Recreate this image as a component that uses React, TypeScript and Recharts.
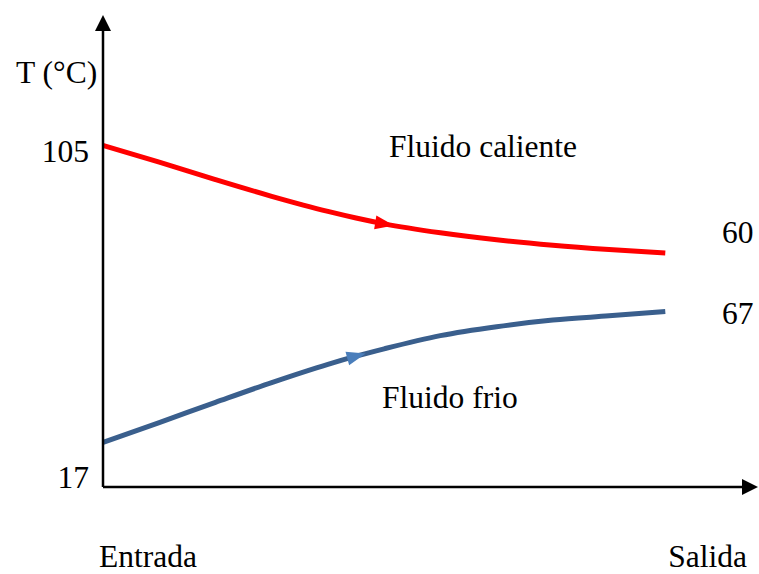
import React from 'react';
import { LineChart, Line, XAxis, YAxis } from 'recharts';

// position along the exchanger (0 = entrada, 100 = salida)
const positions = [0, 10, 20, 30, 40, 45, 50, 60, 70, 80, 90, 100];
const hotFluid = [105, 100.7, 96.2, 91.9, 88.0, 86.3, 84.8, 82.5, 80.7, 79.3, 78.2, 77.3];
const coldFluid = [28.5, 33.6, 38.8, 43.9, 48.6, 50.7, 52.6, 56.0, 58.3, 60.0, 61.1, 62.2];
const yTicks = [105, 17];

const data = positions.map((p, i) => ({ pos: p, hot: hotFluid[i], cold: coldFluid[i] }));

const FONT = "'Liberation Serif', 'Times New Roman', Times, serif";
const RED = '#ff0000';
const BLUE = '#3a5f8d';
const txt = { fontFamily: FONT, fontSize: 31.5, fill: '#000' };

const arrowDot = (at: number, color: string, angle: number) => (props: any) => {
  const { cx, cy, payload, index } = props;
  if (payload.pos !== at || cx == null) return <g key={`d-${index}`} />;
  return (
    <polygon
      key={`d-${index}`}
      points="-9,-7 10,0 -9,7"
      fill={color}
      transform={`translate(${cx},${cy}) rotate(${angle})`}
    />
  );
};

const YTick = (props: any) => {
  const { x, y, payload } = props;
  const dy = payload.value === 105 ? 17 : 1;
  return (
    <text x={x - 6} y={y + dy} textAnchor="end" style={txt}>
      {payload.value}
    </text>
  );
};

const App = () => {
  return (
    <div style={{ position: 'absolute', left: 0, top: 0, background: '#fff' }}>
      <LineChart width={759} height={574} data={data} margin={{ top: 29, right: 15, left: 0, bottom: 86 }}
        style={{ overflow: 'visible' }}>
        <defs>
          <marker id="axisArrow" viewBox="0 0 16 16" refX={2} refY={8} markerWidth={16} markerHeight={16}
            markerUnits="userSpaceOnUse" orient="auto-start-reverse">
            <path d="M0,0 L16,8 L0,16 z" fill="#000" />
          </marker>
        </defs>
        <XAxis
          dataKey="pos"
          type="number"
          domain={[0, 114]}
          height={1}
          tick={false}
          tickLine={false}
          axisLine={{ stroke: '#000', strokeWidth: 2.5, markerEnd: 'url(#axisArrow)' }}
        />
        <YAxis
          type="number"
          domain={[17, 135]}
          ticks={yTicks}
          width={103}
          tickLine={false}
          tick={<YTick />}
          axisLine={{ stroke: '#000', strokeWidth: 2.5, markerStart: 'url(#axisArrow)' }}
        />
        <Line type="monotone" dataKey="hot" stroke={RED} strokeWidth={5} isAnimationActive={false}
          dot={arrowDot(50, RED, 9)} activeDot={false} />
        <Line type="monotone" dataKey="cold" stroke={BLUE} strokeWidth={5} isAnimationActive={false}
          dot={arrowDot(45, '#4a7ebb', -15)} activeDot={false} />
        <g>
          <text x={16} y={83} style={txt}>T (°C)</text>
          <text x={389} y={157} style={txt}>Fluido caliente</text>
          <text x={382} y={408} style={txt}>Fluido frio</text>
          <text x={722} y={243} style={txt}>60</text>
          <text x={722} y={324} style={txt}>67</text>
          <text x={99} y={567} style={txt}>Entrada</text>
          <text x={747} y={567} textAnchor="end" style={txt}>Salida</text>
        </g>
      </LineChart>
    </div>
  );
};

export default App;
